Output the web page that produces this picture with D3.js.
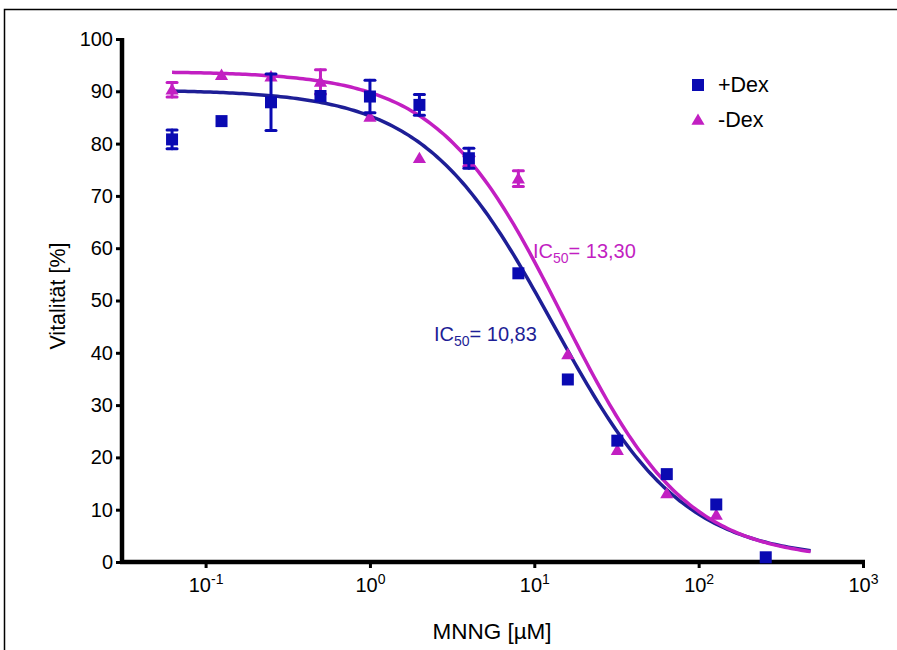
<!DOCTYPE html>
<html>
<head>
<meta charset="utf-8">
<script src="https://cdn.jsdelivr.net/npm/d3@7"></script>
<style>
  html, body { margin: 0; padding: 0; background: #fff; }
  svg { display: block; }
  text { font-family: "Liberation Sans", Arial, Helvetica, sans-serif; }
</style>
</head>
<body>
<svg id="chart" width="897" height="650"></svg>
<script>
// MNNG concentrations (µM)
const conc = [0.0625, 0.125, 0.25, 0.5, 1, 2, 4, 8, 16, 32, 64, 128, 256];

// Viability (%) with Dex, mean and SEM
const plusDex    = [80.8, 84.3, 87.9, 89.1, 89.0, 87.4, 77.2, 55.2, 34.9, 23.2, 16.8, 11.0, 0.9];
const plusDexErr = [1.8, 0, 5.4, 0, 3.1, 2.0, 1.9, 0, 0, 0, 0, 0, 0];

// Viability (%) without Dex, mean and SEM
const minusDex    = [90.3, 93.1, 92.8, 91.8, 85.1, 77.2, 76.6, 73.3, 39.7, 21.4, 13.1, 9.0, null];
const minusDexErr = [1.4, 0, 0, 2.3, 0, 0, 1.0, 1.5, 0, 0, 0, 0, 0];

// Dose-response fit parameters: top, bottom, hill slope, absolute IC50 (µM)
const fitPlus  = { top: 90.3, bottom: 0.5, hill: 1.1, ic50: 10.83 };
const fitMinus = { top: 93.8, bottom: 0.3, hill: 1.15, ic50: 13.30 };
const curveRange = [0.0625, 480];

const xTicks = [0.1, 1, 10, 100, 1000];
const xExponents = ["-1", "0", "1", "2", "3"];
const yTicks = [0, 10, 20, 30, 40, 50, 60, 70, 80, 90, 100];

const series = [
  { name: "+Dex", values: plusDex, err: plusDexErr, fit: fitPlus,
    mark: "#0a0ab2", line: "#1e1e96" },
  { name: "-Dex", values: minusDex, err: minusDexErr, fit: fitMinus,
    mark: "#c21fc2", line: "#c21fc2" }
];

const svg = d3.select("#chart");

// outer frame (top and left edges)
svg.append("path")
  .attr("d", "M4.5,650 L4.5,9.5 L897,9.5")
  .attr("fill", "none").attr("stroke", "#000").attr("stroke-width", 1.5);

const x = d3.scaleLog().domain([0.031, 1000]).range([122, 863]);
const y = d3.scaleLinear().domain([0, 100]).range([562, 39]);

// 4-parameter logistic anchored at the absolute IC50 (where the curve crosses 50 %)
function logistic(p) {
  const ec = p.ic50 / Math.pow((p.top - p.bottom) / (50 - p.bottom) - 1, 1 / p.hill);
  return c => p.bottom + (p.top - p.bottom) / (1 + Math.pow(c / ec, p.hill));
}

// axes
const yAxis = svg.append("g")
  .attr("transform", `translate(${x.range()[0]},0)`)
  .call(d3.axisLeft(y).tickValues(yTicks).tickSize(6).tickPadding(3).tickFormat(d3.format("d")));
yAxis.select(".domain").attr("d", `M0,${y(100) - 1}V${y(0) + 2}`).attr("stroke-width", 4.5);
yAxis.selectAll(".tick line").attr("stroke-width", 3);
yAxis.selectAll(".tick text").attr("font-size", 20).attr("fill", "#000")
  .attr("font-family", "'Liberation Sans', Arial, sans-serif");

const xAxis = svg.append("g")
  .attr("transform", `translate(0,${y(0)})`)
  .call(d3.axisBottom(x).tickValues(xTicks).tickSize(6).tickPadding(10).tickFormat(() => ""));
xAxis.select(".domain").attr("d", `M${x.range()[0] - 2},0H${x.range()[1] + 2}`).attr("stroke-width", 4.5);
xAxis.selectAll(".tick line").attr("stroke-width", 3);
xAxis.selectAll(".tick text").each(function(d, i) {
  const t = d3.select(this)
    .attr("font-size", 20).attr("fill", "#000")
    .attr("font-family", "'Liberation Sans', Arial, sans-serif")
    .attr("text-anchor", "middle");
  t.append("tspan").text("10");
  t.append("tspan").text(xExponents[i]).attr("font-size", 14).attr("dy", -8);
});

// axis titles
svg.append("text")
  .attr("x", 492).attr("y", 639)
  .attr("text-anchor", "middle").attr("font-size", 22.5)
  .text("MNNG [µM]");
svg.append("text")
  .attr("transform", "translate(65,296) rotate(-90)")
  .attr("text-anchor", "middle").attr("font-size", 21.5)
  .text("Vitalität [%]");

// fitted curves
const lineGen = d3.line().x(d => x(d[0])).y(d => y(d[1])).curve(d3.curveLinear);
const logMin = Math.log10(curveRange[0]), logMax = Math.log10(curveRange[1]);
series.forEach(s => {
  const f = logistic(s.fit);
  const pts = d3.range(0, 201).map(i => {
    const c = Math.pow(10, logMin + (logMax - logMin) * i / 200);
    return [c, f(c)];
  });
  svg.append("path").datum(pts)
    .attr("fill", "none").attr("stroke", s.line).attr("stroke-width", 3.5)
    .attr("d", lineGen);
});

// error bars with caps
function drawErrors(s) {
  const g = svg.append("g").attr("stroke", s.mark).attr("stroke-width", 3).attr("stroke-linecap", "round");
  conc.forEach((c, i) => {
    const v = s.values[i], e = s.err[i];
    if (v == null || !e) return;
    const cx = x(c);
    g.append("line").attr("x1", cx).attr("x2", cx).attr("y1", y(v + e)).attr("y2", y(v - e));
    g.append("line").attr("x1", cx - 5).attr("x2", cx + 5).attr("y1", y(v + e)).attr("y2", y(v + e));
    g.append("line").attr("x1", cx - 5).attr("x2", cx + 5).attr("y1", y(v - e)).attr("y2", y(v - e));
  });
}

const triangle = d3.symbol().type(d3.symbolTriangle).size(75);

// -Dex triangles
drawErrors(series[1]);
svg.append("g").selectAll("path")
  .data(conc.map((c, i) => [c, minusDex[i]]).filter(d => d[1] != null))
  .join("path")
  .attr("transform", d => `translate(${x(d[0])},${y(d[1]) + 1})`)
  .attr("d", triangle)
  .attr("fill", series[1].mark);

// +Dex squares
drawErrors(series[0]);
svg.append("g").selectAll("rect")
  .data(conc.map((c, i) => [c, plusDex[i]]))
  .join("rect")
  .attr("x", d => x(d[0]) - 6).attr("y", d => y(d[1]) - 6)
  .attr("width", 12).attr("height", 12)
  .attr("fill", series[0].mark);

// IC50 annotations
function icLabel(xPos, yPos, color, value) {
  const t = svg.append("text").attr("x", xPos).attr("y", yPos)
    .attr("font-size", 20).attr("fill", color);
  t.append("tspan").text("IC");
  t.append("tspan").text("50").attr("font-size", 14).attr("dy", 5);
  t.append("tspan").text("= " + value).attr("dy", -5);
}
icLabel(533, 258, series[1].line, "13,30");
icLabel(434, 341, series[0].line, "10,83");

// legend
const legend = svg.append("g").attr("transform", "translate(698,0)");
legend.append("rect").attr("x", -6).attr("y", 79).attr("width", 12).attr("height", 12)
  .attr("fill", series[0].mark);
legend.append("text").attr("x", 20).attr("y", 92).attr("font-size", 21.5).text(series[0].name);
legend.append("path").attr("transform", "translate(0,121)").attr("d", triangle)
  .attr("fill", series[1].mark);
legend.append("text").attr("x", 20).attr("y", 127).attr("font-size", 21.5).text(series[1].name);
</script>
</body>
</html>
